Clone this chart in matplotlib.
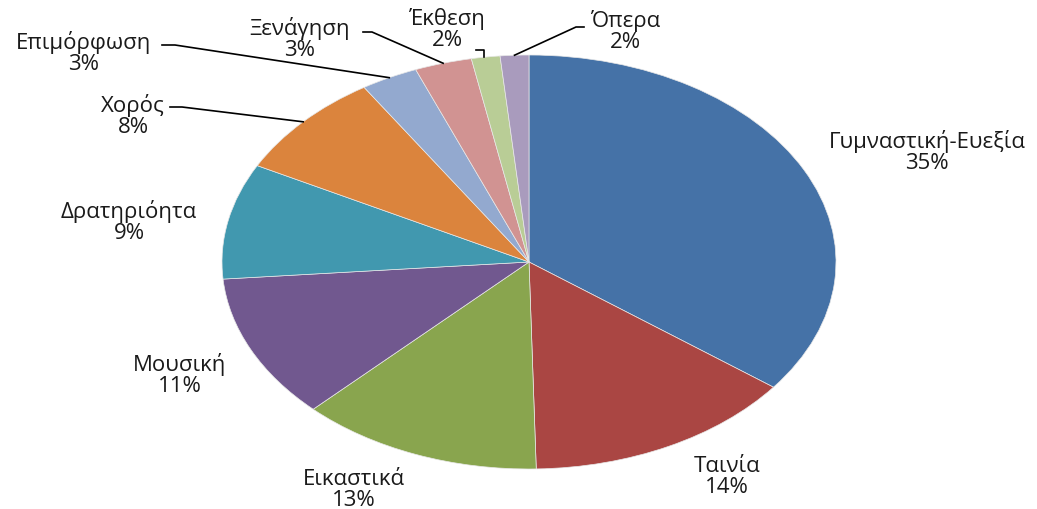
import matplotlib
matplotlib.use('Agg')
import matplotlib.pyplot as plt
import numpy as np

plt.rcParams['font.family'] = ['Open Sans', 'DejaVu Sans']

# data (counts, labels show rounded %)
categories = ['Γυμναστική-Ευεξία', 'Ταινία', 'Εικαστικά', 'Μουσική', 'Δρατηριόητα',
              'Χορός', 'Επιμόρφωση', 'Ξενάγηση', 'Έκθεση', 'Όπερα']
values = [47, 19, 17, 15, 12, 11, 4, 4, 2, 2]
colors = ['#4572A7', '#AA4643', '#89A54E', '#71588F', '#4198AF',
          '#DB843D', '#93A9CF', '#D19392', '#B9CD96', '#A99BBD']

# layout in figure pixels
W, H = 1037, 510
cx, cy, rx, ry = 529, 263, 307, 207
label_pos = [(927, 152), (727, 477), (354, 490), (180, 375), (129, 222),
             (133, 116), (84, 53), (300, 39), (447, 30), (625, 31)]
# leader lines: (start point, elbow point) or None
leaders = [None, None, None, None, None,
           ((170, 108), (182, 108)),
           ((162, 46), (175, 46)),
           ((363, 33), (372, 33)),
           ((476, 51), (484, 51)),
           ((584, 28), (576, 28))]

fig = plt.figure(figsize=(W / 100, H / 100), dpi=100)
fig.patch.set_facecolor('white')

ax = fig.add_axes([(cx - rx) / W, (H - cy - ry) / H, 2 * rx / W, 2 * ry / H])
wedges, _ = ax.pie(values, colors=colors, startangle=90, counterclock=False,
                   radius=1, wedgeprops=dict(edgecolor='#e8e8e8', linewidth=0.5))
ax.set_xlim(-1, 1)
ax.set_ylim(-1, 1)
ax.set_aspect('auto')
ax.axis('off')

ov = fig.add_axes([0, 0, 1, 1], zorder=5)
ov.set_xlim(0, W)
ov.set_ylim(H, 0)
ov.axis('off')

total = sum(values)
for w, name, v, pos, ld in zip(wedges, categories, values, label_pos, leaders):
    pct = int(np.floor(v / total * 100 + 0.5))
    ov.text(pos[0], pos[1], f'{name}\n{pct}%', ha='center', va='center',
            fontsize=16, color='#1a1a1a', linespacing=1.0)
    if ld is not None:
        mid = np.deg2rad((w.theta1 + w.theta2) / 2)
        ex = cx + rx * np.cos(mid)
        ey = cy - ry * np.sin(mid)
        if name == 'Έκθεση':
            xs = [ld[0][0], ld[1][0], ld[1][0]]
            ys = [ld[0][1], ld[1][1], ey]
        else:
            xs = [ld[0][0], ld[1][0], ex]
            ys = [ld[0][1], ld[1][1], ey]
        ov.plot(xs, ys, color='black', linewidth=1.2)

fig.savefig('out.png', dpi=100)
